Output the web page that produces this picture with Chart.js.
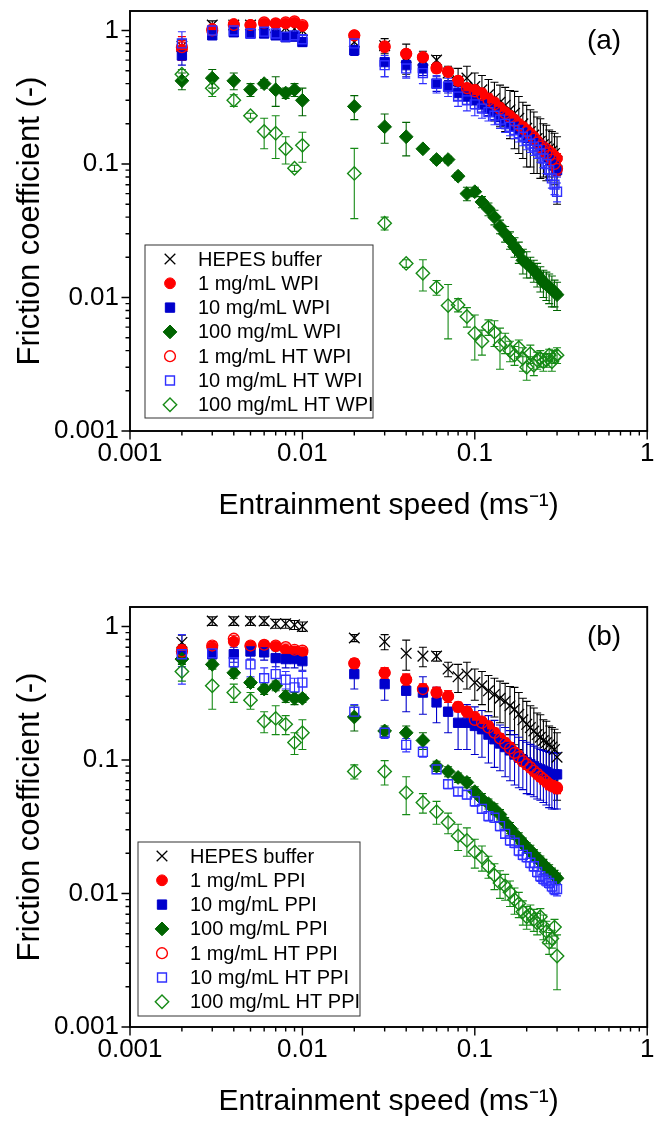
<!DOCTYPE html>
<html><head><meta charset="utf-8">
<script src="https://cdn.jsdelivr.net/npm/chart.js@4.4.1/dist/chart.umd.min.js"></script>
<style>
html,body{margin:0;padding:0;background:#fff;}
body{width:656px;height:1123px;overflow:hidden;position:relative;}
.w{position:absolute;left:0;width:656px;height:527px;}
</style>
</head><body>
<div class="w" style="top:0px"><canvas id="ca"></canvas></div>
<div class="w" style="top:596px"><canvas id="cb"></canvas></div>
<script>
// ---------------- DATA ----------------
const speeds = [0.002,0.003,0.004,0.005,0.006,0.007,0.008,0.009,0.01,
  0.02,0.03,0.04,0.05,0.06,0.07,0.08,0.09,0.1,
  0.11,0.12,0.13,0.14,0.15,0.16,0.17,0.18,0.19,0.2,0.21,0.22,0.23,0.24,0.25,0.26,0.27,0.28,0.29,0.3];

const xTickLabels = ['0.001','0.01','0.1','1'];
const yTickLabels = ['0.001','0.01','0.1','1'];

const hepes = [0.76,1.1,1.1,1.1,1.1,1.05,1.05,1.03,1.0,
  0.82,0.77,0.63,0.6,0.6,0.48,0.42,0.44,0.38,
  0.36,0.33,0.31,0.29,0.275,0.255,0.24,0.22,0.2,0.185,0.175,0.165,0.155,0.148,0.14,0.135,0.13,0.125,0.12,0.105];
const hepesErr = [0.1,0.08,0.08,0.08,0.08,0.08,0.08,0.08,0.08,
  0.05,0.1,0.16,0.1,0.05,0.06,0.1,0.1,0.1,
  0.1,0.1,0.1,0.1,0.1,0.1,0.11,0.1,0.09,0.09,0.08,0.08,0.07,0.07,0.06,0.06,0.05,0.05,0.05,0.055];

// Panel (a): WPI
const wpi1 = [0.72,1.03,1.12,1.1,1.13,1.12,1.13,1.15,1.08,
  0.92,0.75,0.67,0.63,0.53,0.49,0.42,0.37,0.36,
  0.34,0.31,0.29,0.265,0.245,0.23,0.215,0.2,0.19,0.18,0.17,0.16,0.15,0.14,0.135,0.13,0.125,0.12,0.115,0.11];
const wpi1Err = [0.12,0.05,0.05,0.05,0.05,0.04,0.05,0.05,0.05,
  0.06,0.06,0.05,0.04,0.04,0.03,0.03,0.03,0.03,
  0.025,0.025,0.02,0.02,0.02,0.018,0.017,0.016,0.015,0.014,0.013,0.012,0.012,0.011,0.011,0.01,0.01,0.01,0.01,0.01];
const wpi10 = [0.65,0.92,0.97,0.95,0.95,0.92,0.89,0.9,0.82,
  0.71,0.58,0.55,0.52,0.4,0.38,0.34,0.32,0.3,
  0.28,0.26,0.245,0.225,0.21,0.2,0.19,0.18,0.172,0.165,0.158,0.15,0.142,0.135,0.128,0.12,0.112,0.105,0.098,0.09];
const wpi10Err = [0.1,0.06,0.06,0.06,0.06,0.06,0.06,0.06,0.06,
  0.06,0.13,0.1,0.06,0.05,0.04,0.04,0.04,0.04,
  0.035,0.03,0.03,0.028,0.026,0.025,0.024,0.022,0.021,0.02,0.019,0.018,0.017,0.016,0.015,0.014,0.013,0.012,0.011,0.01];
const wpi100 = [0.42,0.44,0.42,0.36,0.4,0.36,0.34,0.36,0.3,
  0.27,0.19,0.16,0.13,0.108,0.108,0.081,0.06,0.062,
  0.052,0.046,0.04,0.034,0.03,0.027,0.024,0.022,0.019,0.018,0.017,0.016,0.015,0.014,0.013,0.0125,0.012,0.0115,0.011,0.0105];
const wpi100Err = [0.06,0.07,0.06,0.04,0.03,0.09,0.03,0.04,0.07,
  0.055,0.047,0.045,0.005,0.006,0.006,0.005,0.007,0.005,
  0.005,0.005,0.005,0.004,0.004,0.004,0.004,0.004,0.004,0.004,0.003,0.003,0.003,0.003,0.003,0.003,0.003,0.003,0.0025,0.0025];
const htWpi1 = [0.75,1.0,1.1,1.1,1.15,1.13,1.15,1.17,1.1,
  0.92,0.76,0.67,0.63,0.52,0.49,0.42,0.37,0.35,
  0.33,0.3,0.28,0.26,0.24,0.225,0.21,0.195,0.185,0.175,0.165,0.155,0.145,0.135,0.128,0.12,0.115,0.108,0.1,0.092];
const htWpi1Err = [0.15,0.05,0.05,0.05,0.05,0.05,0.05,0.05,0.05,
  0.05,0.05,0.05,0.04,0.04,0.03,0.03,0.03,0.03,
  0.025,0.025,0.02,0.02,0.02,0.018,0.017,0.016,0.015,0.014,0.013,0.012,0.012,0.011,0.011,0.01,0.01,0.01,0.01,0.01];
const htWpi10 = [0.8,1.0,1.0,0.95,0.98,0.95,0.9,0.92,0.86,
  0.8,0.55,0.52,0.48,0.4,0.38,0.32,0.3,0.28,
  0.26,0.245,0.23,0.215,0.2,0.19,0.18,0.17,0.16,0.15,0.142,0.135,0.128,0.12,0.11,0.1,0.09,0.078,0.07,0.062];
const htWpi10Err = [0.18,0.06,0.06,0.06,0.06,0.06,0.06,0.06,0.06,
  0.06,0.1,0.08,0.08,0.06,0.06,0.05,0.05,0.05,
  0.04,0.035,0.033,0.03,0.028,0.027,0.025,0.024,0.023,0.022,0.02,0.019,0.018,0.017,0.016,0.015,0.014,0.012,0.011,0.01];
const htWpi100 = [0.47,0.37,0.3,0.23,0.175,0.17,0.13,0.093,0.138,
  0.085,0.036,0.018,0.0152,0.0119,0.0087,0.0088,0.0072,0.0054,
  0.0047,0.006,0.0055,0.0044,0.0046,0.004,0.0037,0.0042,0.0035,0.003,0.0038,0.0031,0.0034,0.0035,0.0033,0.0034,0.0037,0.0033,0.0036,0.0037];
const htWpi100Err = [0.04,0.05,0.03,0.01,0.045,0.06,0.03,0.005,0.035,
  0.046,0.004,0.0012,0.004,0.0015,0.0038,0.001,0.0012,0.002,
  0.001,0.0008,0.0012,0.0015,0.0008,0.0007,0.0006,0.0006,0.0007,0.0006,0.0006,0.0005,0.0005,0.0005,0.0005,0.0004,0.0004,0.0005,0.0004,0.0005];

// Panel (b): PPI
const ppi1 = [0.67,0.7,0.77,0.71,0.72,0.71,0.67,0.65,0.64,
  0.53,0.45,0.4,0.34,0.32,0.3,0.25,0.23,0.21,
  0.195,0.18,0.16,0.145,0.135,0.125,0.115,0.108,0.1,0.095,0.09,0.085,0.08,0.077,0.073,0.07,0.067,0.065,0.063,0.061];
const ppi1Err = [0.06,0.05,0.05,0.05,0.05,0.04,0.04,0.04,0.04,
  0.04,0.04,0.04,0.03,0.03,0.03,0.02,0.02,0.02,
  0.015,0.014,0.013,0.012,0.011,0.01,0.009,0.009,0.008,0.008,0.007,0.007,0.007,0.006,0.006,0.006,0.006,0.005,0.005,0.005];
const ppi10 = [0.6,0.62,0.62,0.65,0.64,0.58,0.57,0.57,0.55,
  0.44,0.37,0.33,0.32,0.27,0.23,0.19,0.19,0.18,
  0.17,0.155,0.143,0.133,0.125,0.118,0.11,0.105,0.1,0.096,0.093,0.09,0.087,0.085,0.083,0.081,0.079,0.078,0.078,0.078];
const ppi10Err = [0.1,0.1,0.08,0.08,0.08,0.08,0.08,0.08,0.08,
  0.1,0.09,0.1,0.1,0.08,0.07,0.07,0.07,0.07,
  0.065,0.06,0.055,0.05,0.05,0.048,0.045,0.043,0.04,0.04,0.038,0.037,0.036,0.035,0.035,0.035,0.035,0.035,0.035,0.035];
const ppi100 = [0.57,0.52,0.45,0.38,0.34,0.36,0.3,0.29,0.29,
  0.21,0.165,0.16,0.14,0.09,0.082,0.074,0.068,0.058,
  0.051,0.047,0.043,0.039,0.034,0.031,0.028,0.026,0.024,0.022,0.021,0.0195,0.0185,0.0175,0.0165,0.0155,0.015,0.0142,0.0136,0.013];
const ppi100Err = [0.05,0.04,0.04,0.03,0.03,0.03,0.03,0.03,0.02,
  0.045,0.015,0.02,0.02,0.008,0.007,0.006,0.006,0.005,
  0.005,0.004,0.004,0.0035,0.003,0.003,0.0025,0.0025,0.002,0.002,0.002,0.0018,0.0017,0.0016,0.0015,0.0014,0.0014,0.0013,0.0013,0.0012];
const htPpi1 = [0.65,0.72,0.81,0.72,0.73,0.72,0.7,0.67,0.66,
  0.53,0.45,0.4,0.34,0.32,0.3,0.25,0.23,0.2,
  0.19,0.175,0.16,0.145,0.133,0.122,0.113,0.105,0.098,0.093,0.088,0.083,0.079,0.075,0.072,0.069,0.066,0.064,0.063,0.062];
const htPpi1Err = [0.06,0.05,0.05,0.05,0.05,0.04,0.04,0.04,0.04,
  0.04,0.04,0.04,0.03,0.03,0.03,0.02,0.02,0.02,
  0.015,0.014,0.013,0.012,0.011,0.01,0.009,0.009,0.008,0.008,0.007,0.007,0.007,0.006,0.006,0.006,0.006,0.005,0.005,0.005];
const htPpi10 = [0.62,0.63,0.54,0.52,0.41,0.44,0.4,0.35,0.38,
  0.23,0.16,0.13,0.115,0.085,0.066,0.058,0.055,0.049,
  0.043,0.038,0.037,0.032,0.028,0.025,0.024,0.021,0.0195,0.0187,0.017,0.016,0.0145,0.0135,0.0129,0.0125,0.012,0.0113,0.0108,0.0108];
const htPpi10Err = [0.25,0.1,0.08,0.1,0.08,0.1,0.06,0.06,0.08,
  0.03,0.015,0.015,0.01,0.006,0.005,0.004,0.004,0.004,
  0.003,0.003,0.003,0.0025,0.002,0.002,0.002,0.0018,0.0016,0.0015,0.0014,0.0013,0.0012,0.0012,0.0011,0.0011,0.001,0.001,0.001,0.0012];
const htPpi100 = [0.46,0.36,0.32,0.28,0.195,0.205,0.185,0.135,0.16,
  0.082,0.082,0.057,0.048,0.041,0.034,0.027,0.025,0.0205,
  0.0187,0.016,0.0137,0.012,0.0114,0.0102,0.009,0.0084,0.0073,0.0067,0.007,0.0064,0.006,0.0067,0.0057,0.0052,0.0043,0.0046,0.0056,0.0034];
const htPpi100Err = [0.07,0.12,0.05,0.04,0.035,0.05,0.03,0.025,0.04,
  0.01,0.017,0.018,0.008,0.008,0.006,0.006,0.006,0.005,
  0.004,0.003,0.003,0.0028,0.0025,0.0022,0.002,0.0018,0.0015,0.0013,0.0012,0.0012,0.0011,0.001,0.0012,0.001,0.0008,0.0007,0.0008,0.0015];

const labelsA = ['HEPES buffer','1 mg/mL WPI','10 mg/mL WPI','100 mg/mL WPI','1 mg/mL HT WPI','10 mg/mL HT WPI','100 mg/mL HT WPI'];
const labelsB = ['HEPES buffer','1 mg/mL PPI','10 mg/mL PPI','100 mg/mL PPI','1 mg/mL HT PPI','10 mg/mL HT PPI','100 mg/mL HT PPI'];
const xTitle = 'Entrainment speed (ms\u207B\u00B9)';
const yTitle = 'Friction coefficient (-)';

// ---------------- STYLE ----------------
const FONT = "'Liberation Sans', Arial, Helvetica, sans-serif";
const seriesStyles = [
  {shape:'crossRot', color:'#000000', fill:false, r:7.5, bw:1.3},
  {shape:'circle',   color:'#ff0000', fill:true,  r:5.4, bw:1},
  {shape:'rect',     color:'#0000cc', fill:true,  r:6.6, bw:1},
  {shape:'rectRot',  color:'#006400', fill:true,  r:6.9, bw:1},
  {shape:'circle',   color:'#ff0000', fill:false, r:5.4, bw:1.4},
  {shape:'rect',     color:'#3030ff', fill:false, r:6.3, bw:1.4},
  {shape:'rectRot',  color:'#168a16', fill:false, r:6.7, bw:1.4}
];

function drawMarker(ctx, st, x, y) {
  ctx.save();
  ctx.lineWidth = st.bw;
  ctx.strokeStyle = st.color;
  ctx.fillStyle = st.fill ? st.color : 'rgba(0,0,0,0)';
  ctx.beginPath();
  const r = st.r;
  if (st.shape === 'circle') {
    ctx.arc(x, y, r, 0, Math.PI * 2);
  } else if (st.shape === 'rect') {
    const s = r * Math.SQRT1_2;
    ctx.rect(x - s, y - s, 2 * s, 2 * s);
  } else if (st.shape === 'rectRot') {
    ctx.moveTo(x - r, y); ctx.lineTo(x, y - r); ctx.lineTo(x + r, y); ctx.lineTo(x, y + r); ctx.closePath();
  } else if (st.shape === 'crossRot') {
    const o = r * Math.SQRT1_2;
    ctx.moveTo(x - o, y - o); ctx.lineTo(x + o, y + o);
    ctx.moveTo(x - o, y + o); ctx.lineTo(x + o, y - o);
  }
  if (st.fill) ctx.fill();
  ctx.stroke();
  ctx.restore();
}

const errorBarPlugin = {
  id: 'errorBars',
  beforeDatasetsDraw(chart) {
    const {ctx, chartArea} = chart;
    const xs = chart.scales.x, ys = chart.scales.y;
    ctx.save();
    ctx.beginPath();
    ctx.rect(chartArea.left, chartArea.top, chartArea.right - chartArea.left, chartArea.bottom - chartArea.top);
    ctx.clip();
    chart.data.datasets.forEach((ds) => {
      ctx.strokeStyle = ds.errColor;
      ctx.lineWidth = 1.1;
      ds.data.forEach((p, i) => {
        const e = ds.errors[i];
        if (!e) return;
        const px = xs.getPixelForValue(p.x);
        const yTop = ys.getPixelForValue(p.y + e);
        const yBot = ys.getPixelForValue(Math.max(p.y - e, 1e-5));
        const cw = 4;
        ctx.beginPath();
        ctx.moveTo(px, yTop); ctx.lineTo(px, yBot);
        ctx.moveTo(px - cw, yTop); ctx.lineTo(px + cw, yTop);
        ctx.moveTo(px - cw, yBot); ctx.lineTo(px + cw, yBot);
        ctx.stroke();
      });
    });
    ctx.restore();
  }
};

const framePlugin = {
  id: 'frame',
  afterDraw(chart, args, opts) {
    const {ctx, chartArea} = chart;
    const {left, right, top, bottom} = chartArea;
    const xs = chart.scales.x, ys = chart.scales.y;
    ctx.save();
    ctx.strokeStyle = '#000';
    ctx.lineWidth = 1.9;
    ctx.strokeRect(left, top, right - left, bottom - top);
    ctx.lineWidth = 1.4;
    ctx.beginPath();
    for (let d = -3; d <= 0; d++) {
      const base = Math.pow(10, d);
      let px = xs.getPixelForValue(base);
      ctx.moveTo(px, bottom); ctx.lineTo(px, bottom + 8.5);
      let py = ys.getPixelForValue(base);
      ctx.moveTo(left, py); ctx.lineTo(left - 8.5, py);
      if (d < 0) {
        for (let k = 2; k <= 9; k++) {
          const v = k * base;
          px = xs.getPixelForValue(v);
          ctx.moveTo(px, bottom); ctx.lineTo(px, bottom + 4.5);
          py = ys.getPixelForValue(v);
          ctx.moveTo(left, py); ctx.lineTo(left - 4.5, py);
        }
      }
    }
    ctx.stroke();
    // panel letter
    ctx.fillStyle = '#000';
    ctx.font = '28px ' + FONT;
    ctx.textAlign = 'center';
    ctx.textBaseline = 'middle';
    ctx.fillText(opts.letter, opts.letterX, opts.letterY);
    // legend
    const lg = opts.legend;
    ctx.lineWidth = 1;
    ctx.strokeStyle = '#333';
    ctx.strokeRect(lg.x, lg.y, lg.w, lg.h);
    ctx.font = '20px ' + FONT;
    ctx.textAlign = 'left';
    ctx.textBaseline = 'middle';
    chart.data.datasets.forEach((ds, i) => {
      const ry = lg.row0 + i * lg.step;
      drawMarker(ctx, seriesStyles[i], lg.mx, ry);
      ctx.fillStyle = '#000';
      ctx.fillText(ds.label, lg.tx, ry + 1);
    });
    ctx.restore();
  }
};

function makeChart(id, series, errs, labels, letter, legend) {
  const datasets = series.map((vals, i) => {
    const st = seriesStyles[i];
    return {
      label: labels[i],
      data: speeds.map((s, j) => ({x: s, y: vals[j]})),
      errors: errs[i],
      errColor: st.color,
      showLine: false,
      order: 10 - i,
      pointStyle: st.shape,
      pointRadius: st.r,
      pointHoverRadius: st.r,
      pointBorderWidth: st.bw,
      pointBorderColor: st.color,
      pointBackgroundColor: st.fill ? st.color : 'rgba(0,0,0,0)',
      borderColor: st.color,
      backgroundColor: st.fill ? st.color : 'rgba(0,0,0,0)'
    };
  });
  const xVals = xTickLabels.map(Number);
  const yVals = yTickLabels.map(Number);
  return new Chart(document.getElementById(id), {
    type: 'scatter',
    data: {datasets},
    plugins: [errorBarPlugin, framePlugin],
    options: {
      responsive: true,
      maintainAspectRatio: false,
      devicePixelRatio: 1,
      animation: false,
      events: [],
      layout: {padding: {top: 11, right: 4, left: 0, bottom: 0}},
      plugins: {
        legend: {display: false},
        tooltip: {enabled: false},
        frame: {letter, letterX: 604, letterY: 41, legend}
      },
      scales: {
        x: {
          type: 'logarithmic', position: 'bottom', min: 0.001, max: 1,
          grid: {display: false, drawTicks: false},
          border: {display: false},
          ticks: {autoSkip: false, maxRotation: 0, minRotation: 0, padding: 7, color: '#000',
            font: {size: 26, family: FONT},
            callback: (v) => { const k = xVals.indexOf(Number(v)); return k >= 0 ? xTickLabels[k] : ''; }},
          title: {display: true, text: xTitle, color: '#000', font: {size: 30, family: FONT}, padding: {top: 0, bottom: 3}},
          afterBuildTicks: (s) => { s.ticks = xVals.map(v => ({value: v})); },
          afterFit: (s) => { s.height = 96; s.paddingLeft = 0; s.paddingRight = 0; }
        },
        y: {
          type: 'logarithmic', position: 'left', min: 0.001, max: 1.4,
          grid: {display: false, drawTicks: false},
          border: {display: false},
          ticks: {autoSkip: false, padding: 11, color: '#000',
            font: {size: 26, family: FONT},
            callback: (v) => { const k = yVals.indexOf(Number(v)); return k >= 0 ? yTickLabels[k] : ''; }},
          title: {display: true, text: yTitle, color: '#000', font: {size: 31, family: FONT}, padding: {top: 12, bottom: 0}},
          afterBuildTicks: (s) => { s.ticks = yVals.map(v => ({value: v})); },
          afterFit: (s) => { s.width = 130; s.paddingTop = 0; s.paddingBottom = 0; }
        }
      }
    }
  });
}

makeChart('ca',
  [hepes, wpi1, wpi10, wpi100, htWpi1, htWpi10, htWpi100],
  [hepesErr, wpi1Err, wpi10Err, wpi100Err, htWpi1Err, htWpi10Err, htWpi100Err],
  labelsA, '(a)',
  {x: 145, y: 245, w: 228, h: 173, row0: 259, step: 24.3, mx: 170, tx: 198});

makeChart('cb',
  [hepes, ppi1, ppi10, ppi100, htPpi1, htPpi10, htPpi100],
  [hepesErr, ppi1Err, ppi10Err, ppi100Err, htPpi1Err, htPpi10Err, htPpi100Err],
  labelsB, '(b)',
  {x: 138, y: 246, w: 222, h: 174, row0: 260, step: 24.3, mx: 162, tx: 190});
</script>
</body></html>
